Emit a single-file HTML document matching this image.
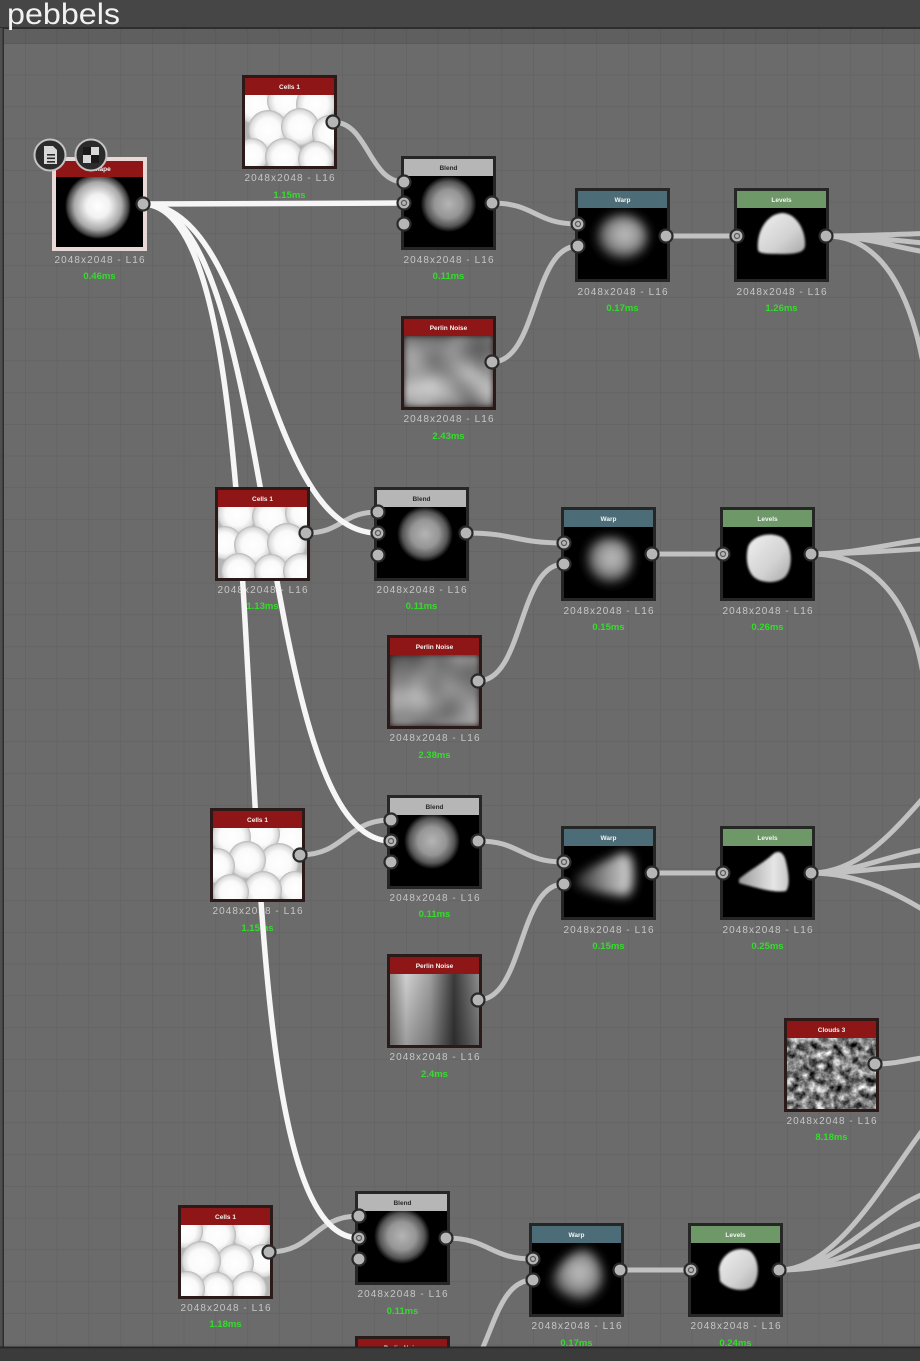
<!DOCTYPE html>
<html>
<head>
<meta charset="utf-8">
<style>
html,body{margin:0;padding:0;background:#6b6b6b;width:920px;height:1361px;overflow:hidden;}
svg{display:block;}
.ht{font-family:"Liberation Sans",sans-serif;font-size:6.5px;font-weight:bold;fill:#f4f4f4;text-anchor:middle;}
.htd{font-family:"Liberation Sans",sans-serif;font-size:6.5px;font-weight:bold;fill:#2a2a2a;text-anchor:middle;}
.sz{font-family:"Liberation Sans",sans-serif;font-size:10px;fill:#c6c6c6;text-anchor:middle;}
.ms{font-family:"Liberation Sans",sans-serif;font-size:9.5px;font-weight:bold;fill:#34dc2c;text-anchor:middle;}
.gw{fill:none;stroke:#c2c2c2;stroke-width:5;stroke-linecap:round;}
.ww{fill:none;stroke:#f6f6f6;stroke-width:5.5;stroke-linecap:round;}
.po{fill:#b6b6b6;stroke:#2a2a2a;stroke-width:2.2;}
.pd{fill:none;stroke:#5a5a5a;stroke-width:1.2;}
</style>
</head>
<body>
<svg width="920" height="1361" viewBox="0 0 920 1361" xmlns="http://www.w3.org/2000/svg" style="overflow:hidden">
<defs>
  <pattern id="grid" x="-6.75" y="11.25" width="31.75" height="31.75" patternUnits="userSpaceOnUse">
    <rect width="31.75" height="31.75" fill="#6b6b6b"/>
    <path d="M0 0 H31.75 M0 0 V31.75" stroke="#616161" stroke-width="1.2" fill="none"/>
  </pattern>
  <clipPath id="ic"><rect x="3" y="20" width="89" height="71"/></clipPath>
  <radialGradient id="gIn" cx="0.5" cy="0.5" r="0.5">
    <stop offset="0" stop-color="#ffffff"/>
    <stop offset="0.35" stop-color="#f2f2f2"/>
    <stop offset="0.72" stop-color="#a8a8a8"/>
    <stop offset="0.92" stop-color="#404040"/>
    <stop offset="1" stop-color="#000000"/>
  </radialGradient>
  <radialGradient id="gBl" cx="0.5" cy="0.5" r="0.5">
    <stop offset="0" stop-color="#b4b4b4"/>
    <stop offset="0.5" stop-color="#959595"/>
    <stop offset="0.8" stop-color="#555555"/>
    <stop offset="1" stop-color="#000000"/>
  </radialGradient>
  <radialGradient id="gWp" cx="0.55" cy="0.45" r="0.55">
    <stop offset="0" stop-color="#c4c4c4"/>
    <stop offset="0.6" stop-color="#8c8c8c"/>
    <stop offset="1" stop-color="#1a1a1a"/>
  </radialGradient>
  <linearGradient id="gWc" x1="0" y1="0" x2="1" y2="0">
    <stop offset="0" stop-color="#222"/>
    <stop offset="0.5" stop-color="#8a8a8a"/>
    <stop offset="1" stop-color="#d8d8d8"/>
  </linearGradient>
  <linearGradient id="gLv" x1="0" y1="0" x2="1" y2="1">
    <stop offset="0" stop-color="#f0f0f0"/>
    <stop offset="0.6" stop-color="#d2d2d2"/>
    <stop offset="1" stop-color="#a8a8a8"/>
  </linearGradient>
  <linearGradient id="gLc" x1="0" y1="0" x2="1" y2="0">
    <stop offset="0" stop-color="#9a9a9a"/>
    <stop offset="0.7" stop-color="#e6e6e6"/>
    <stop offset="1" stop-color="#c8c8c8"/>
  </linearGradient>
  <radialGradient id="cellg" cx="0.5" cy="0.5" r="0.5">
    <stop offset="0" stop-color="#ffffff"/>
    <stop offset="0.6" stop-color="#fafafa"/>
    <stop offset="0.88" stop-color="#dcdcdc"/>
    <stop offset="1" stop-color="#b4b4b4"/>
  </radialGradient>
  <linearGradient id="gP3" x1="0" y1="0" x2="1" y2="0">
    <stop offset="0" stop-color="#8a8a8a"/>
    <stop offset="0.18" stop-color="#d0d0d0"/>
    <stop offset="0.45" stop-color="#a0a0a0"/>
    <stop offset="0.72" stop-color="#3a3a3a"/>
    <stop offset="1" stop-color="#8c8c8c"/>
  </linearGradient>
  <linearGradient id="gP3v" x1="0" y1="0" x2="0" y2="1">
    <stop offset="0" stop-color="#000" stop-opacity="0"/>
    <stop offset="1" stop-color="#000" stop-opacity="0.25"/>
  </linearGradient>
  <filter id="bl" x="-0.5" y="-0.5" width="2" height="2"><feGaussianBlur stdDeviation="5"/></filter>
  <filter id="bl2" x="-0.5" y="-0.5" width="2" height="2"><feGaussianBlur stdDeviation="1"/></filter>
  <filter id="per1" x="0" y="0" width="1" height="1" color-interpolation-filters="sRGB">
    <feTurbulence type="fractalNoise" baseFrequency="0.022" numOctaves="2" seed="2"/>
    <feColorMatrix type="matrix" values="0.75 0 0 0 0.15  0.75 0 0 0 0.15  0.75 0 0 0 0.15  0 0 0 0 1"/>
    <feGaussianBlur stdDeviation="3" edgeMode="duplicate"/>
  </filter>
  <filter id="per2" x="0" y="0" width="1" height="1" color-interpolation-filters="sRGB">
    <feTurbulence type="fractalNoise" baseFrequency="0.02" numOctaves="2" seed="9"/>
    <feColorMatrix type="matrix" values="0.8 0 0 0 0.1  0.8 0 0 0 0.1  0.8 0 0 0 0.1  0 0 0 0 1"/>
    <feGaussianBlur stdDeviation="3" edgeMode="duplicate"/>
  </filter>
  <filter id="cloud" x="0" y="0" width="1" height="1" color-interpolation-filters="sRGB">
    <feTurbulence type="fractalNoise" baseFrequency="0.12" numOctaves="4" seed="5"/>
    <feColorMatrix type="matrix" values="1.5 0 0 0 -0.26  1.5 0 0 0 -0.26  1.5 0 0 0 -0.26  0 0 0 0 1"/>
  </filter>
  <g id="cells">
    <rect x="3" y="20" width="89" height="71" fill="#b4b4b4"/>
    <circle cx="14" cy="30" r="20" fill="url(#cellg)"/>
    <circle cx="44" cy="26" r="19" fill="url(#cellg)"/>
    <circle cx="74" cy="29" r="20" fill="url(#cellg)"/>
    <circle cx="26" cy="55" r="20" fill="url(#cellg)"/>
    <circle cx="58" cy="52" r="19" fill="url(#cellg)"/>
    <circle cx="88" cy="58" r="18" fill="url(#cellg)"/>
    <circle cx="10" cy="80" r="17" fill="url(#cellg)"/>
    <circle cx="42" cy="82" r="19" fill="url(#cellg)"/>
    <circle cx="74" cy="84" r="18" fill="url(#cellg)"/>
  </g>
  <g id="cells2">
    <rect x="3" y="20" width="89" height="71" fill="#b4b4b4"/>
    <circle cx="22" cy="27" r="20" fill="url(#cellg)"/>
    <circle cx="56" cy="30" r="19" fill="url(#cellg)"/>
    <circle cx="88" cy="26" r="18" fill="url(#cellg)"/>
    <circle cx="10" cy="56" r="17" fill="url(#cellg)"/>
    <circle cx="38" cy="58" r="19" fill="url(#cellg)"/>
    <circle cx="72" cy="56" r="20" fill="url(#cellg)"/>
    <circle cx="24" cy="84" r="18" fill="url(#cellg)"/>
    <circle cx="56" cy="84" r="17" fill="url(#cellg)"/>
    <circle cx="86" cy="84" r="18" fill="url(#cellg)"/>
  </g>
</defs>

<!-- background -->
<rect x="0" y="0" width="920" height="1361" fill="#6b6b6b"/>
<rect x="0" y="28" width="920" height="1320" fill="url(#grid)"/>
<rect x="0" y="29" width="920" height="15" fill="#000" opacity="0.11"/>
<rect x="0" y="0" width="920" height="28" fill="#464646"/>
<rect x="0" y="27" width="920" height="2" fill="#2e2e2e"/>
<rect x="0" y="28" width="3" height="1320" fill="#4e4e4e"/>
<rect x="2.5" y="28" width="1.5" height="1320" fill="#2e2e2e"/>
<text x="7" y="24" font-family="Liberation Sans, sans-serif" font-size="30" fill="#f2f2f2" textLength="113" lengthAdjust="spacingAndGlyphs">pebbels</text>

<!-- labels -->
<g>
<text class="sz" x="99.5" y="263" textLength="90">2048x2048 - L16</text><text class="ms" x="99.5" y="279">0.46ms</text>
<text class="sz" x="289.5" y="181" textLength="90">2048x2048 - L16</text><text class="ms" x="289.5" y="198">1.15ms</text>
<text class="sz" x="448.5" y="263" textLength="90">2048x2048 - L16</text><text class="ms" x="448.5" y="279">0.11ms</text>
<text class="sz" x="448.5" y="422" textLength="90">2048x2048 - L16</text><text class="ms" x="448.5" y="439">2.43ms</text>
<text class="sz" x="622.5" y="295" textLength="90">2048x2048 - L16</text><text class="ms" x="622.5" y="311">0.17ms</text>
<text class="sz" x="781.5" y="295" textLength="90">2048x2048 - L16</text><text class="ms" x="781.5" y="311">1.26ms</text>

<text class="sz" x="262.5" y="593" textLength="90">2048x2048 - L16</text><text class="ms" x="262.5" y="609">1.13ms</text>
<text class="sz" x="421.5" y="593" textLength="90">2048x2048 - L16</text><text class="ms" x="421.5" y="609">0.11ms</text>
<text class="sz" x="434.5" y="741" textLength="90">2048x2048 - L16</text><text class="ms" x="434.5" y="758">2.38ms</text>
<text class="sz" x="608.5" y="614" textLength="90">2048x2048 - L16</text><text class="ms" x="608.5" y="630">0.15ms</text>
<text class="sz" x="767.5" y="614" textLength="90">2048x2048 - L16</text><text class="ms" x="767.5" y="630">0.26ms</text>

<text class="sz" x="257.5" y="914" textLength="90">2048x2048 - L16</text><text class="ms" x="257.5" y="931">1.15ms</text>
<text class="sz" x="434.5" y="901" textLength="90">2048x2048 - L16</text><text class="ms" x="434.5" y="917">0.11ms</text>
<text class="sz" x="434.5" y="1060" textLength="90">2048x2048 - L16</text><text class="ms" x="434.5" y="1077">2.4ms</text>
<text class="sz" x="608.5" y="933" textLength="90">2048x2048 - L16</text><text class="ms" x="608.5" y="949">0.15ms</text>
<text class="sz" x="767.5" y="933" textLength="90">2048x2048 - L16</text><text class="ms" x="767.5" y="949">0.25ms</text>

<text class="sz" x="831.5" y="1124" textLength="90">2048x2048 - L16</text><text class="ms" x="831.5" y="1140">8.18ms</text>

<text class="sz" x="225.5" y="1311" textLength="90">2048x2048 - L16</text><text class="ms" x="225.5" y="1327">1.18ms</text>
<text class="sz" x="402.5" y="1297" textLength="90">2048x2048 - L16</text><text class="ms" x="402.5" y="1314">0.11ms</text>
<text class="sz" x="576.5" y="1329" textLength="90">2048x2048 - L16</text><text class="ms" x="576.5" y="1346">0.17ms</text>
<text class="sz" x="735.5" y="1329" textLength="90">2048x2048 - L16</text><text class="ms" x="735.5" y="1346">0.24ms</text>
</g>

<!-- grey wires -->
<g>
<path class="gw" d="M333 122 C368 122 369 182 404 182"/>
<path class="gw" d="M492 203 C535 203 535 224 578 224"/>
<path class="gw" d="M492 362 C538 362 532 246 578 246"/>
<path class="gw" d="M666 236 L738 236"/>
<path class="gw" d="M306 533 C342 533 342 512 378 512"/>
<path class="gw" d="M466 533 C515 533 515 543 564 543"/>
<path class="gw" d="M478 681 C524 681 518 564 564 564"/>
<path class="gw" d="M652 554 L723 554"/>
<path class="gw" d="M300 855 C345 855 346 820 391 820"/>
<path class="gw" d="M478 841 C521 841 521 862 564 862"/>
<path class="gw" d="M478 1000 C524 1000 518 884 564 884"/>
<path class="gw" d="M652 873 L723 873"/>
<path class="gw" d="M269 1252 C314 1252 314 1216 359 1216"/>
<path class="gw" d="M446 1238 C489 1238 490 1259 533 1259"/>
<path class="gw" d="M446 1383 C492 1383 487 1280 533 1280"/>
<path class="gw" d="M620 1270 L691 1270"/>
<!-- right edge -->
<path class="gw" d="M826 236 C870 236 900 234 940 233"/>
<path class="gw" d="M826 236 C870 236 900 242 940 244"/>
<path class="gw" d="M826 236 C870 236 900 250 940 254"/>
<path class="gw" d="M826 236 C880 236 912 290 926 380"/>
<path class="gw" d="M811 554 C860 554 890 542 940 538"/>
<path class="gw" d="M811 554 C860 554 890 550 940 548"/>
<path class="gw" d="M811 554 C872 554 912 600 924 680"/>
<path class="gw" d="M811 873 C860 873 895 830 932 788"/>
<path class="gw" d="M811 873 C860 873 890 852 940 848"/>
<path class="gw" d="M811 873 C860 873 890 866 940 864"/>
<path class="gw" d="M811 873 C860 873 900 895 935 917"/>
<path class="gw" d="M875 1064 C900 1064 910 1058 940 1056"/>
<path class="gw" d="M779 1270 C840 1270 890 1170 932 1118"/>
<path class="gw" d="M779 1270 C840 1270 880 1205 935 1190"/>
<path class="gw" d="M779 1270 C840 1270 890 1228 935 1220"/>
<path class="gw" d="M779 1270 C840 1270 890 1248 935 1244"/>
</g>

<!-- white wires -->
<g>
<path class="ww" d="M142 204 L404 203"/>
<path class="ww" d="M142 204 C260 204 260 533 378 533"/>
<path class="ww" d="M142 204 C279 204 254 841 391 841"/>
<path class="ww" d="M142 204 C305 204 196 1238 359 1238"/>
</g>

<!-- NODES -->
<!-- Input -->
<g transform="translate(52,157)">
  <rect width="95" height="94" fill="#e8d8d8"/>
  <rect x="4" y="4" width="87" height="16" fill="#8e1616"/>
  <rect x="4" y="20" width="87" height="70" fill="#000"/>
  <g clip-path="url(#ic)"><circle cx="46" cy="49" r="33" fill="url(#gIn)"/></g>
  <text class="ht" x="49" y="14">Shape</text>
  <circle class="po" cx="91" cy="47" r="6.5"/>
</g>
<!-- icons -->
<g>
  <circle cx="50" cy="155" r="15.5" fill="#2b2b2b" stroke="#c4c4c4" stroke-width="2"/>
  <path d="M44 146 H53 L57 150 V164 H44 Z" fill="#d8d8d8"/>
  <rect x="47" y="154" width="8" height="1.6" fill="#2b2b2b"/>
  <rect x="47" y="157.5" width="8" height="1.6" fill="#2b2b2b"/>
  <rect x="47" y="161" width="8" height="1.6" fill="#2b2b2b"/>
  <circle cx="91" cy="155" r="15.5" fill="#2b2b2b" stroke="#c4c4c4" stroke-width="2"/>
  <rect x="83" y="147" width="16" height="16" fill="#d8d8d8"/>
  <rect x="83" y="147" width="8" height="8" fill="#1a1a1a"/>
  <rect x="91" y="155" width="8" height="8" fill="#1a1a1a"/>
</g>

<!-- Cells 1 top -->
<g transform="translate(242,75)">
  <rect width="95" height="94" fill="#2a1a1a"/>
  <rect x="3" y="3" width="89" height="17" fill="#8e1616"/>
  <g clip-path="url(#ic)"><use href="#cells"/></g>
  <text class="ht" x="47.5" y="14">Cells 1</text>
  <circle class="po" cx="91" cy="47" r="6.5"/>
</g>

<!-- Blend 1 -->
<g transform="translate(401,156)">
  <rect width="95" height="94" fill="#262626"/>
  <rect x="3" y="3" width="89" height="17" fill="#b6b6b6"/>
  <rect x="3" y="20" width="89" height="71" fill="#000"/>
  <g clip-path="url(#ic)"><circle cx="47.5" cy="48" r="28" fill="url(#gBl)"/></g>
  <text class="htd" x="47.5" y="14">Blend</text>
  <circle class="po" cx="3" cy="26" r="6.5"/>
  <circle class="po" cx="3" cy="47" r="6.5"/><circle class="pd" cx="3" cy="47" r="2.5"/>
  <circle class="po" cx="3" cy="68" r="6.5"/>
  <circle class="po" cx="91" cy="47" r="6.5"/>
</g>

<!-- Perlin 1 -->
<g transform="translate(401,316)">
  <rect width="95" height="94" fill="#2a1a1a"/>
  <rect x="3" y="3" width="89" height="17" fill="#8e1616"/>
  <rect x="3" y="20" width="89" height="71" fill="#888" filter="url(#per1)"/>
  <text class="ht" x="47.5" y="14">Perlin Noise</text>
  <circle class="po" cx="91" cy="46" r="6.5"/>
</g>

<!-- Warp 1 -->
<g transform="translate(575,188)">
  <rect width="95" height="94" fill="#262626"/>
  <rect x="3" y="3" width="89" height="17" fill="#4c6c77"/>
  <rect x="3" y="20" width="89" height="71" fill="#000"/>
  <g clip-path="url(#ic)"><ellipse cx="47" cy="49" rx="26" ry="23" fill="url(#gWp)" filter="url(#bl)"/></g>
  <text class="ht" x="47.5" y="14">Warp</text>
  <circle class="po" cx="3" cy="36" r="6.5"/><circle class="pd" cx="3" cy="36" r="2.5"/>
  <circle class="po" cx="3" cy="58" r="6.5"/>
  <circle class="po" cx="91" cy="48" r="6.5"/>
</g>

<!-- Levels 1 -->
<g transform="translate(734,188)">
  <rect width="95" height="94" fill="#262626"/>
  <rect x="3" y="3" width="89" height="17" fill="#6e9868"/>
  <rect x="3" y="20" width="89" height="71" fill="#000"/>
  <g clip-path="url(#ic)"><path d="M24 62 C22 45 32 26 48 25 C62 25 72 42 71 58 C70 64 64 66 48 66 C34 66 25 66 24 62 Z" fill="url(#gLv)" filter="url(#bl2)"/></g>
  <text class="ht" x="47.5" y="14">Levels</text>
  <circle class="po" cx="3" cy="48" r="6.5"/><circle class="pd" cx="3" cy="48" r="2.5"/>
  <circle class="po" cx="92" cy="48" r="6.5"/>
</g>

<!-- Cells 2 -->
<g transform="translate(215,487)">
  <rect width="95" height="94" fill="#2a1a1a"/>
  <rect x="3" y="3" width="89" height="17" fill="#8e1616"/>
  <g clip-path="url(#ic)"><use href="#cells2"/></g>
  <text class="ht" x="47.5" y="14">Cells 1</text>
  <circle class="po" cx="91" cy="46" r="6.5"/>
</g>

<!-- Blend 2 -->
<g transform="translate(374,487)">
  <rect width="95" height="94" fill="#262626"/>
  <rect x="3" y="3" width="89" height="17" fill="#b6b6b6"/>
  <rect x="3" y="20" width="89" height="71" fill="#000"/>
  <g clip-path="url(#ic)"><circle cx="51" cy="47" r="28" fill="url(#gBl)"/></g>
  <text class="htd" x="47.5" y="14">Blend</text>
  <circle class="po" cx="4" cy="25" r="6.5"/>
  <circle class="po" cx="4" cy="46" r="6.5"/><circle class="pd" cx="4" cy="46" r="2.5"/>
  <circle class="po" cx="4" cy="68" r="6.5"/>
  <circle class="po" cx="92" cy="46" r="6.5"/>
</g>

<!-- Perlin 2 -->
<g transform="translate(387,635)">
  <rect width="95" height="94" fill="#2a1a1a"/>
  <rect x="3" y="3" width="89" height="17" fill="#8e1616"/>
  <rect x="3" y="20" width="89" height="71" fill="#888" filter="url(#per2)"/>
  <text class="ht" x="47.5" y="14">Perlin Noise</text>
  <circle class="po" cx="91" cy="46" r="6.5"/>
</g>

<!-- Warp 2 -->
<g transform="translate(561,507)">
  <rect width="95" height="94" fill="#262626"/>
  <rect x="3" y="3" width="89" height="17" fill="#4c6c77"/>
  <rect x="3" y="20" width="89" height="71" fill="#000"/>
  <g clip-path="url(#ic)"><path d="M26 44 C30 30 52 26 64 34 C74 42 74 64 64 72 C54 80 36 78 30 68 C24 60 24 52 26 44Z" fill="url(#gWp)" filter="url(#bl)"/></g>
  <text class="ht" x="47.5" y="14">Warp</text>
  <circle class="po" cx="3" cy="36" r="6.5"/><circle class="pd" cx="3" cy="36" r="2.5"/>
  <circle class="po" cx="3" cy="57" r="6.5"/>
  <circle class="po" cx="91" cy="47" r="6.5"/>
</g>

<!-- Levels 2 -->
<g transform="translate(720,507)">
  <rect width="95" height="94" fill="#262626"/>
  <rect x="3" y="3" width="89" height="17" fill="#6e9868"/>
  <rect x="3" y="20" width="89" height="71" fill="#000"/>
  <g clip-path="url(#ic)"><path d="M28 40 C32 28 52 24 63 31 C73 39 73 62 65 70 C56 78 38 76 32 68 C26 60 26 48 28 40Z" fill="url(#gLv)" filter="url(#bl2)"/></g>
  <text class="ht" x="47.5" y="14">Levels</text>
  <circle class="po" cx="3" cy="47" r="6.5"/><circle class="pd" cx="3" cy="47" r="2.5"/>
  <circle class="po" cx="91" cy="47" r="6.5"/>
</g>

<!-- Cells 3 -->
<g transform="translate(210,808)">
  <rect width="95" height="94" fill="#2a1a1a"/>
  <rect x="3" y="3" width="89" height="17" fill="#8e1616"/>
  <g clip-path="url(#ic)"><use href="#cells" transform="translate(95,0) scale(-1,1)"/></g>
  <text class="ht" x="47.5" y="14">Cells 1</text>
  <circle class="po" cx="90" cy="47" r="6.5"/>
</g>

<!-- Blend 3 -->
<g transform="translate(387,795)">
  <rect width="95" height="94" fill="#262626"/>
  <rect x="3" y="3" width="89" height="17" fill="#b6b6b6"/>
  <rect x="3" y="20" width="89" height="71" fill="#000"/>
  <g clip-path="url(#ic)"><circle cx="45" cy="46" r="28" fill="url(#gBl)"/></g>
  <text class="htd" x="47.5" y="14">Blend</text>
  <circle class="po" cx="4" cy="25" r="6.5"/>
  <circle class="po" cx="4" cy="46" r="6.5"/><circle class="pd" cx="4" cy="46" r="2.5"/>
  <circle class="po" cx="4" cy="67" r="6.5"/>
  <circle class="po" cx="91" cy="46" r="6.5"/>
</g>

<!-- Perlin 3 -->
<g transform="translate(387,954)">
  <rect width="95" height="94" fill="#2a1a1a"/>
  <rect x="3" y="3" width="89" height="17" fill="#8e1616"/>
  <rect x="3" y="20" width="89" height="71" fill="url(#gP3)"/>
  <rect x="3" y="20" width="89" height="71" fill="url(#gP3v)"/>
  <text class="ht" x="47.5" y="14">Perlin Noise</text>
  <circle class="po" cx="91" cy="46" r="6.5"/>
</g>

<!-- Warp 3 -->
<g transform="translate(561,826)">
  <rect width="95" height="94" fill="#262626"/>
  <rect x="3" y="3" width="89" height="17" fill="#4c6c77"/>
  <rect x="3" y="20" width="89" height="71" fill="#000"/>
  <g clip-path="url(#ic)"><path d="M14 52 C24 42 44 36 58 28 C66 24 72 30 72 42 C73 56 72 66 66 70 C54 70 32 66 14 60 Z" fill="url(#gWc)" filter="url(#bl)"/></g>
  <text class="ht" x="47.5" y="14">Warp</text>
  <circle class="po" cx="3" cy="36" r="6.5"/><circle class="pd" cx="3" cy="36" r="2.5"/>
  <circle class="po" cx="3" cy="58" r="6.5"/>
  <circle class="po" cx="91" cy="47" r="6.5"/>
</g>

<!-- Levels 3 -->
<g transform="translate(720,826)">
  <rect width="95" height="94" fill="#262626"/>
  <rect x="3" y="3" width="89" height="17" fill="#6e9868"/>
  <rect x="3" y="20" width="89" height="71" fill="#000"/>
  <g clip-path="url(#ic)"><path d="M19 53 C28 45 42 38 52 29 C58 23 64 26 66 36 C69 48 70 60 66 65 C56 67 40 63 19 57 Z" fill="url(#gLc)" filter="url(#bl2)"/></g>
  <text class="ht" x="47.5" y="14">Levels</text>
  <circle class="po" cx="3" cy="47" r="6.5"/><circle class="pd" cx="3" cy="47" r="2.5"/>
  <circle class="po" cx="91" cy="47" r="6.5"/>
</g>

<!-- Clouds 3 -->
<g transform="translate(784,1018)">
  <rect width="95" height="94" fill="#2a1a1a"/>
  <rect x="3" y="3" width="89" height="17" fill="#8e1616"/>
  <rect x="3" y="20" width="89" height="71" fill="#888" filter="url(#cloud)"/>
  <text class="ht" x="47.5" y="14">Clouds 3</text>
  <circle class="po" cx="91" cy="46" r="6.5"/>
</g>

<!-- Cells 4 -->
<g transform="translate(178,1205)">
  <rect width="95" height="94" fill="#2a1a1a"/>
  <rect x="3" y="3" width="89" height="17" fill="#8e1616"/>
  <g clip-path="url(#ic)"><use href="#cells2" transform="translate(95,0) scale(-1,1)"/></g>
  <text class="ht" x="47.5" y="14">Cells 1</text>
  <circle class="po" cx="91" cy="47" r="6.5"/>
</g>

<!-- Blend 4 -->
<g transform="translate(355,1191)">
  <rect width="95" height="94" fill="#262626"/>
  <rect x="3" y="3" width="89" height="17" fill="#b6b6b6"/>
  <rect x="3" y="20" width="89" height="71" fill="#000"/>
  <g clip-path="url(#ic)"><circle cx="47" cy="45" r="28" fill="url(#gBl)"/></g>
  <text class="htd" x="47.5" y="14">Blend</text>
  <circle class="po" cx="4" cy="25" r="6.5"/>
  <circle class="po" cx="4" cy="47" r="6.5"/><circle class="pd" cx="4" cy="47" r="2.5"/>
  <circle class="po" cx="4" cy="68" r="6.5"/>
  <circle class="po" cx="91" cy="47" r="6.5"/>
</g>

<!-- Warp 4 -->
<g transform="translate(529,1223)">
  <rect width="95" height="94" fill="#262626"/>
  <rect x="3" y="3" width="89" height="17" fill="#4c6c77"/>
  <rect x="3" y="20" width="89" height="71" fill="#000"/>
  <g clip-path="url(#ic)"><path d="M22 56 C28 42 44 26 56 26 C68 28 76 46 74 60 C70 72 58 82 46 78 C32 74 20 66 22 56Z" fill="url(#gWp)" filter="url(#bl)"/></g>
  <text class="ht" x="47.5" y="14">Warp</text>
  <circle class="po" cx="4" cy="36" r="6.5"/><circle class="pd" cx="4" cy="36" r="2.5"/>
  <circle class="po" cx="4" cy="57" r="6.5"/>
  <circle class="po" cx="91" cy="47" r="6.5"/>
</g>

<!-- Levels 4 -->
<g transform="translate(688,1223)">
  <rect width="95" height="94" fill="#262626"/>
  <rect x="3" y="3" width="89" height="17" fill="#6e9868"/>
  <rect x="3" y="20" width="89" height="71" fill="#000"/>
  <g clip-path="url(#ic)"><path d="M31 46 C33 30 50 22 62 28 C72 36 72 56 64 64 C54 70 38 66 32 58 Z" fill="url(#gLv)" filter="url(#bl2)"/></g>
  <text class="ht" x="47.5" y="14">Levels</text>
  <circle class="po" cx="3" cy="47" r="6.5"/><circle class="pd" cx="3" cy="47" r="2.5"/>
  <circle class="po" cx="91" cy="47" r="6.5"/>
</g>

<!-- Perlin 4 (partial) -->
<g transform="translate(355,1336)">
  <rect width="95" height="25" fill="#2a1a1a"/>
  <rect x="3" y="3" width="89" height="17" fill="#8e1616"/>
  <rect x="3" y="20" width="89" height="5" fill="#888"/>
  <text class="ht" x="47.5" y="14">Perlin Noise</text>
</g>

<!-- bottom bar -->
<rect x="0" y="1347" width="920" height="14" fill="#3b3b3b"/>
<rect x="0" y="1346.5" width="920" height="1.8" fill="#262626"/>
</svg>
</body>
</html>
